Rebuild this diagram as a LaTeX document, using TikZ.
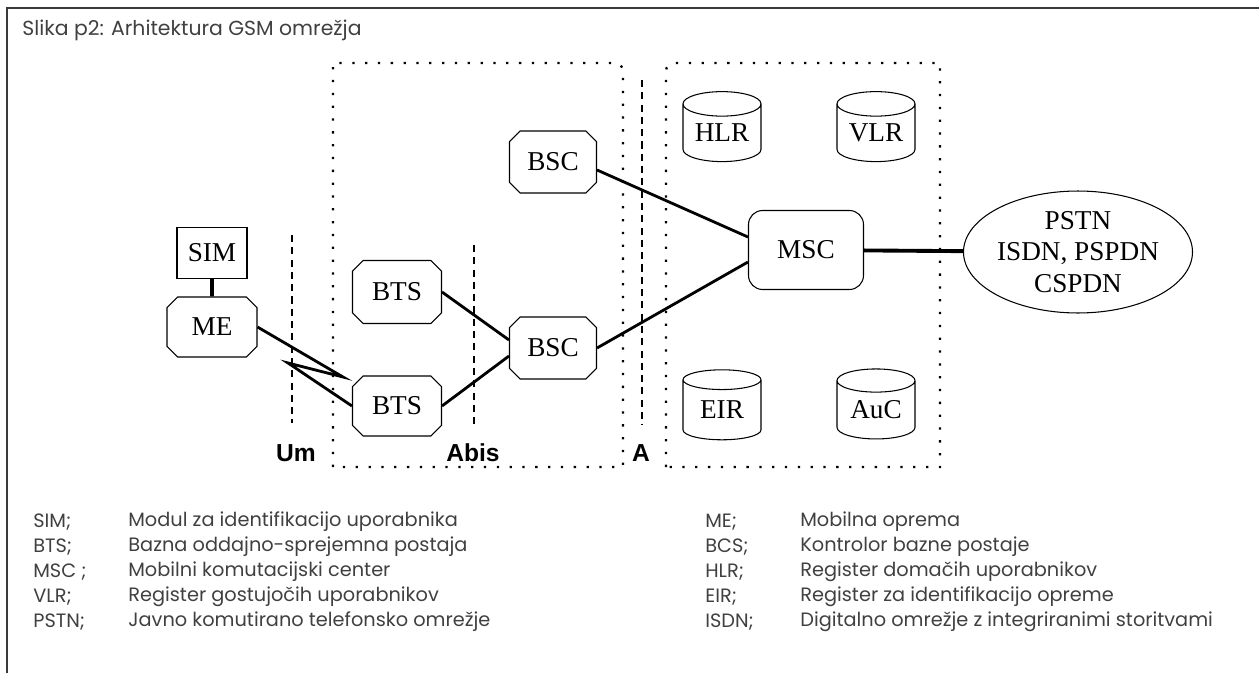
\documentclass[tikz,border=0pt]{standalone}
\usepackage{fontspec}
\setmainfont{Liberation Serif}
\newfontfamily\legendfont{Poppins}
\newfontfamily\ifacefont{Liberation Sans}
\usetikzlibrary{shapes.misc,shapes.geometric}
\definecolor{framegray}{HTML}{3A3A3A}
\definecolor{textgray}{HTML}{404040}

\begin{document}
\begin{tikzpicture}[x=0.02cm,y=-0.02cm,
  unit/.style={draw,line width=0.6pt,chamfered rectangle,chamfered rectangle xsep=3pt,
    chamfered rectangle ysep=3pt,inner sep=0pt,minimum width=1.6cm,minimum height=1.1cm,
    font=\fontsize{15.5}{17}\selectfont},
  db/.style={draw,line width=0.6pt,cylinder,shape border rotate=90,aspect=0.45,inner sep=0pt,
    minimum width=1.56cm,minimum height=1.4cm,font=\fontsize{15.5}{17}\selectfont},
  link/.style={line width=1.6pt},
  zone/.style={line width=1.3pt,dash pattern=on 1.3pt off 6pt},
  cut/.style={line width=0.8pt,dash pattern=on 4pt off 3pt},
  iface/.style={font=\ifacefont\bfseries\fontsize{14}{16}\selectfont},
  legend/.style={anchor=west,inner sep=0pt,text=textgray,font=\legendfont\fontsize{11}{13}\selectfont}]
\useasboundingbox (0,0) rectangle (1259,673);
\draw[framegray,line width=1.7pt] (7,673) -- (7,8) -- (1259,8);
\node[legend,font=\legendfont\fontsize{11.6}{13}\selectfont] (title) at (22,30) {Slika p2: Arhitektura GSM omrežja};

\draw[zone] (333,467) -- (333,63) -- (615,63) to[out=0,in=90] (623,71) -- (623,467) -- cycle;
\draw[zone] (666,467) -- (666,71) to[out=90,in=180] (674,63) -- (940,63) -- (940,467) -- cycle;
\draw[cut] (292,235) -- (292,423);
\draw[cut] (474,245) -- (474,425);
\draw[cut] (642,80) -- (642,425);
\node[iface] (um) at (296,453) {Um};
\node[iface] (abis) at (473,453) {Abis};
\node[iface] (a) at (641,453) {A};

\node[draw,line width=0.6pt,minimum width=1.4cm,minimum height=1.02cm,inner sep=0pt,
  font=\fontsize{15.5}{17}\selectfont] (sim) at (212,253) {SIM};
\node[unit,minimum width=1.8cm,minimum height=1.2cm] (me) at (212,327) {ME};
\node[unit,minimum width=1.78cm,minimum height=1.26cm] (bts1) at (397,292) {BTS};
\node[unit,minimum width=1.78cm,minimum height=1.2cm] (bts2) at (397,406) {BTS};
\node[unit,minimum width=1.74cm,minimum height=1.24cm] (bsc1) at (553,162) {BSC};
\node[unit,minimum width=1.74cm,minimum height=1.24cm] (bsc2) at (553,348) {BSC};
\node[draw,line width=0.6pt,rounded corners=8pt,minimum width=2.3cm,minimum height=1.58cm,
  font=\fontsize{15.5}{17}\selectfont] (msc) at (806,250) {MSC};
\node[draw,line width=0.6pt,ellipse,inner sep=0pt,minimum width=4.4cm,minimum height=2.44cm,
  align=center,font=\fontsize{15.5}{18}\selectfont] (pstn) at (1078,252) {PSTN\\ISDN, PSPDN\\CSPDN};
\node[db] (hlr) at (722,133) {HLR};
\node[db] (vlr) at (876,133) {VLR};
\node[db] (eir) at (722,410) {EIR};
\node[db] (auc) at (876,410) {AuC};

\draw[link,line width=2pt] (sim) -- (me);
\draw[link] (me.east) -- (343,377) -- (288,363) -- (bts2.west);
\draw[link] (bts1.east) -- ([yshift=0.16cm]bsc2.west);
\draw[link] (bts2.east) -- ([yshift=-0.16cm]bsc2.west);
\draw[link] ([yshift=-0.16cm]bsc1.east) -- ([yshift=0.26cm]msc.west);
\draw[link] (bsc2.east) -- ([yshift=-0.24cm]msc.west);
\draw[line width=2.2pt] (msc) -- (pstn);

\foreach \ab/\txt [count=\i] in {SIM;/Modul za identifikacijo uporabnika,
    BTS;/Bazna oddajno-sprejemna postaja,MSC ;/Mobilni komutacijski center,
    VLR;/Register gostujočih uporabnikov,PSTN;/Javno komutirano telefonsko omrežje}{
  \node[legend] (la\i) at (33,497+25*\i) {\ab};
  \node[legend] (lt\i) at (128,497+25*\i) {\txt};
}
\foreach \ab/\txt [count=\i] in {ME;/Mobilna oprema,BCS;/Kontrolor bazne postaje,
    HLR;/Register domačih uporabnikov,EIR;/Register za identifikacijo opreme,
    ISDN;/Digitalno omrežje z integriranimi storitvami}{
  \node[legend] (ra\i) at (705,497+25*\i) {\ab};
  \node[legend] (rt\i) at (800,497+25*\i) {\txt};
}
\end{tikzpicture}
\end{document}
